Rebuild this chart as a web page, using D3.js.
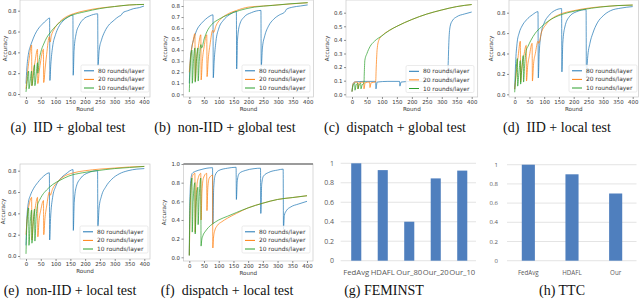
<!DOCTYPE html>
<html>
<head>
<meta charset="utf-8">
<script src="https://cdn.jsdelivr.net/npm/d3@7"></script>
<style>
  body { margin: 0; background: #fff; }
  svg { display: block; }
</style>
</head>
<body>
<svg id="chart" width="640" height="299"></svg>
<script>
// series names / colors
const seriesNames = ["80 rounds/layer", "20 rounds/layer", "10 rounds/layer"];
const seriesColors = ["#1f77b4", "#ff7f0e", "#2ca02c"];
const roundTicks = [0, 50, 100, 150, 200, 250, 300, 350, 400];

// (a) IID + global test
const aBlue = [[0,0.1],[3,0.25],[8,0.38],[15,0.46],[20,0.5],[30,0.57],[40,0.62],[55,0.67],[70,0.71],[80,0.73],[81,0.13],[84,0.28],[90,0.45],[100,0.57],[110,0.64],[125,0.7],[140,0.735],[159,0.76],[160,0.18],[163,0.42],[170,0.58],[180,0.66],[195,0.72],[215,0.75],[243,0.77],[244,0.27],[248,0.42],[256,0.52],[267,0.6],[280,0.66],[295,0.7],[318,0.75],[322,0.755],[328,0.78],[345,0.8],[365,0.82],[385,0.83],[400,0.845]];
const aOrange = [[0,0.05],[5,0.2],[10,0.32],[19,0.47],[20,0.08],[24,0.2],[30,0.3],[39,0.43],[40,0.1],[45,0.22],[50,0.32],[59,0.43],[60,0.11],[65,0.25],[70,0.38],[79,0.55],[82,0.5],[86,0.56],[95,0.62],[110,0.68],[130,0.73],[160,0.77],[200,0.8],[250,0.825],[300,0.84],[350,0.855],[400,0.86]];
const aGreen = [[0,0.02],[4,0.12],[9,0.22],[10,0.05],[14,0.12],[19,0.22],[20,0.08],[25,0.18],[29,0.28],[30,0.08],[35,0.2],[39,0.3],[40,0.2],[45,0.33],[50,0.4],[60,0.48],[70,0.54],[85,0.6],[100,0.65],[120,0.7],[150,0.75],[200,0.79],[250,0.82],[300,0.84],[350,0.855],[400,0.86]];

// (b) non-IID + global test
const bBlue = [[0,0.1],[3,0.3],[8,0.42],[15,0.5],[25,0.58],[40,0.64],[55,0.68],[70,0.71],[80,0.72],[81,0.15],[84,0.3],[90,0.48],[100,0.6],[115,0.67],[135,0.72],[159,0.75],[160,0.23],[163,0.5],[170,0.63],[185,0.7],[210,0.74],[242,0.76],[243,0.25],[247,0.42],[255,0.53],[268,0.62],[285,0.68],[305,0.72],[320,0.74],[324,0.75],[328,0.77],[350,0.79],[375,0.8],[400,0.81]];
const bOrange = [[0,0.2],[5,0.35],[12,0.47],[19,0.55],[20,0.12],[24,0.3],[30,0.42],[39,0.54],[40,0.13],[44,0.3],[50,0.43],[59,0.54],[60,0.16],[64,0.32],[70,0.45],[79,0.58],[82,0.56],[90,0.62],[105,0.68],[125,0.72],[160,0.76],[200,0.79],[250,0.8],[300,0.81],[350,0.82],[400,0.83]];
const bGreen = [[0,0.02],[3,0.25],[9,0.4],[10,0.1],[14,0.3],[19,0.42],[20,0.11],[24,0.3],[29,0.42],[30,0.12],[34,0.32],[39,0.45],[42,0.42],[50,0.5],[60,0.57],[75,0.63],[100,0.68],[130,0.72],[170,0.76],[220,0.79],[280,0.805],[340,0.82],[400,0.83]];

// (c) dispatch + global test
const cBlue = [[0,0.02],[3,0.07],[8,0.09],[40,0.095],[79,0.095],[80,0.04],[84,0.09],[120,0.095],[159,0.095],[160,0.06],[164,0.09],[200,0.095],[239,0.095],[240,0.08],[244,0.095],[280,0.095],[319,0.095],[321,0.2],[324,0.4],[328,0.5],[335,0.54],[350,0.57],[375,0.59],[400,0.605]];
const cOrange = [[0,0.02],[4,0.08],[10,0.09],[19,0.09],[20,0.04],[24,0.085],[39,0.09],[40,0.04],[44,0.085],[59,0.09],[60,0.05],[64,0.085],[79,0.09],[81,0.2],[84,0.33],[90,0.4],[100,0.43],[125,0.47],[150,0.5],[200,0.55],[250,0.59],[300,0.62],[350,0.645],[400,0.66]];
const cGreen = [[0,0.02],[4,0.07],[9,0.08],[10,0.03],[14,0.07],[19,0.08],[20,0.04],[24,0.07],[29,0.08],[30,0.04],[34,0.07],[40,0.08],[41,0.15],[43,0.25],[50,0.3],[60,0.35],[75,0.39],[100,0.43],[125,0.47],[150,0.5],[200,0.55],[250,0.59],[300,0.62],[350,0.645],[400,0.66]];

// (d) IID + local test
const dBlue = [[0,0.05],[3,0.3],[8,0.5],[15,0.6],[25,0.67],[40,0.73],[60,0.78],[79,0.81],[80,0.16],[83,0.4],[90,0.6],[100,0.7],[115,0.77],[135,0.82],[159,0.84],[160,0.22],[163,0.5],[170,0.66],[185,0.76],[210,0.81],[242,0.83],[243,0.16],[247,0.35],[255,0.5],[265,0.6],[280,0.7],[300,0.77],[325,0.82],[360,0.845],[400,0.86]];
const dOrange = [[0,0.05],[5,0.2],[12,0.38],[19,0.52],[20,0.12],[24,0.25],[30,0.36],[39,0.48],[40,0.13],[44,0.28],[50,0.38],[59,0.5],[60,0.13],[64,0.3],[70,0.4],[79,0.52],[82,0.5],[90,0.6],[105,0.68],[125,0.74],[150,0.78],[200,0.82],[250,0.845],[300,0.86],[350,0.87],[400,0.875]];
const dGreen = [[0,0.02],[4,0.2],[9,0.35],[10,0.08],[14,0.2],[19,0.33],[20,0.1],[24,0.25],[29,0.38],[30,0.12],[34,0.3],[39,0.43],[45,0.47],[55,0.53],[70,0.6],[90,0.66],[110,0.71],[140,0.76],[180,0.8],[230,0.83],[290,0.855],[350,0.87],[400,0.875]];

// (e) non-IID + local test
const eBlue = [[0,0.1],[3,0.35],[8,0.5],[15,0.57],[25,0.63],[40,0.69],[60,0.75],[79,0.78],[80,0.15],[83,0.35],[90,0.55],[100,0.65],[115,0.72],[135,0.77],[159,0.81],[160,0.24],[163,0.5],[170,0.65],[185,0.73],[210,0.78],[242,0.8],[243,0.27],[247,0.45],[255,0.56],[270,0.65],[290,0.72],[315,0.77],[345,0.8],[375,0.815],[400,0.82]];
const eOrange = [[0,0.2],[5,0.38],[12,0.5],[19,0.55],[20,0.15],[24,0.3],[30,0.43],[39,0.55],[40,0.18],[44,0.33],[50,0.43],[59,0.52],[60,0.2],[64,0.35],[70,0.47],[79,0.6],[82,0.57],[90,0.63],[105,0.69],[125,0.74],[160,0.78],[200,0.8],[250,0.815],[300,0.825],[350,0.835],[400,0.84]];
const eGreen = [[0,0.02],[3,0.3],[9,0.45],[10,0.1],[14,0.3],[19,0.43],[20,0.12],[24,0.3],[29,0.44],[30,0.14],[34,0.35],[39,0.48],[45,0.52],[55,0.57],[70,0.62],[90,0.67],[115,0.71],[145,0.75],[190,0.78],[240,0.8],[300,0.82],[350,0.83],[400,0.84]];

// (f) dispatch + local test
const fBlue = [[0,0.02],[2,0.6],[5,0.82],[10,0.9],[20,0.92],[40,0.94],[60,0.955],[79,0.96],[80,0.36],[83,0.75],[88,0.88],[100,0.93],[130,0.955],[159,0.965],[160,0.62],[163,0.82],[170,0.9],[190,0.93],[220,0.95],[242,0.955],[243,0.47],[246,0.78],[252,0.87],[270,0.91],[300,0.935],[319,0.945],[320,0.3],[323,0.45],[330,0.5],[345,0.54],[370,0.57],[400,0.6]];
const fOrange = [[0,0.02],[3,0.5],[7,0.8],[12,0.88],[19,0.9],[20,0.27],[23,0.6],[28,0.82],[39,0.9],[40,0.4],[43,0.7],[48,0.85],[59,0.9],[60,0.5],[63,0.75],[68,0.85],[79,0.88],[80,0.1],[82,0.2],[86,0.28],[95,0.34],[110,0.38],[130,0.42],[160,0.47],[200,0.53],[250,0.58],[300,0.62],[350,0.64],[400,0.66]];
const fGreen = [[0,0.02],[2,0.5],[5,0.72],[9,0.85],[10,0.27],[13,0.6],[19,0.8],[20,0.25],[23,0.55],[29,0.75],[30,0.35],[33,0.6],[39,0.85],[40,0.12],[42,0.18],[46,0.23],[55,0.28],[65,0.32],[80,0.36],[100,0.4],[130,0.44],[160,0.48],[200,0.53],[250,0.58],[300,0.62],[350,0.64],[400,0.66]];

// (g) FEMINST, (h) TTC
const femCats = ["FedAvg", "HDAFL", "Our_80", "Our_20", "Our_10"];
const femVals = [1.0, 0.93, 0.40, 0.845, 0.925];
const ttcCats = ["FedAvg", "HDAFL", "Our"];
const ttcVals = [1.0, 0.9, 0.7];
const barTicks = [0, 0.2, 0.4, 0.6, 0.8, 1];

const svg = d3.select("#chart");

function linePanel(p) {
  const x = d3.scaleLinear().domain([0, 400]).range([p.x0, p.x1]);
  const y = d3.scaleLinear().domain([0, p.ref]).range([p.y0, p.y1]);
  const g = svg.append("g");
  const L = p.frame; // [left, top, right, bottom]

  g.append("rect").attr("x", L[0]).attr("y", L[1])
    .attr("width", L[2] - L[0]).attr("height", L[3] - L[1])
    .attr("fill", "none").attr("stroke", "#c8c8c8").attr("stroke-width", 0.7);
  if (p.topLine) {
    g.append("line").attr("x1", L[0]).attr("x2", L[2])
      .attr("y1", y(1)).attr("y2", y(1))
      .attr("stroke", "#808080").attr("stroke-width", 1.6);
  }

  const clipId = "clip" + p.id;
  g.append("clipPath").attr("id", clipId).append("rect")
    .attr("x", L[0]).attr("y", L[1]).attr("width", L[2] - L[0]).attr("height", L[3] - L[1]);

  const line = d3.line().x(d => x(d[0])).y(d => y(d[1])).curve(d3.curveMonotoneX);
  g.append("g").attr("clip-path", `url(#${clipId})`)
    .selectAll("path").data(p.series).enter().append("path")
    .attr("d", line)
    .attr("fill", "none")
    .attr("stroke", (d, i) => seriesColors[i])
    .attr("stroke-width", 0.8)
    .attr("stroke-opacity", 0.9);

  // x axis
  const xa = g.append("g").attr("transform", `translate(0,${L[3]})`)
    .call(d3.axisBottom(x).tickValues(roundTicks).tickSize(2).tickPadding(1));
  // y axis
  const ya = g.append("g").attr("transform", `translate(${L[0]},0)`)
    .call(d3.axisLeft(y).tickValues(p.ticks).tickFormat(d3.format(".1f")).tickSize(2).tickPadding(1.5));
  [xa, ya].forEach(a => {
    a.select(".domain").remove();
    a.selectAll("line").attr("stroke", "#444").attr("stroke-width", 0.6);
    a.selectAll("text").attr("font-family", "DejaVu Sans").attr("font-size", 5.4).attr("fill", "#333");
  });

  g.append("text").attr("x", (L[0] + L[2]) / 2).attr("y", L[3] + 14)
    .attr("text-anchor", "middle").attr("font-family", "DejaVu Sans").attr("font-size", 5.6)
    .attr("fill", "#333").text("Round");
  g.append("text").attr("transform", `translate(${p.ylabX},${(L[1] + L[3]) / 2}) rotate(-90)`)
    .attr("text-anchor", "middle").attr("font-family", "DejaVu Sans").attr("font-size", 5.6)
    .attr("fill", "#333").text("Accuracy");

  // legend
  const lg = g.append("g").attr("transform", `translate(${p.leg[0]},${p.leg[1]})`);
  lg.append("rect").attr("width", 68).attr("height", 27).attr("rx", 1.5)
    .attr("fill", "#fff").attr("fill-opacity", 0.85).attr("stroke", "#ddd").attr("stroke-width", 0.6);
  seriesNames.forEach((n, i) => {
    const yy = 5.8 + i * 8.6;
    lg.append("line").attr("x1", 3).attr("x2", 13).attr("y1", yy).attr("y2", yy)
      .attr("stroke", seriesColors[i]).attr("stroke-width", 1);
    lg.append("text").attr("x", 17).attr("y", yy + 2).attr("font-family", "DejaVu Sans")
      .attr("font-size", 5.9).attr("fill", "#333").text(n);
  });

  svg.append("text").attr("x", p.cap[0]).attr("y", p.cap[1]).attr("text-anchor", "middle")
    .attr("font-family", "Liberation Serif").attr("font-size", 14).attr("fill", "#111")
    .attr("xml:space", "preserve").text(p.caption);
}

function barPanel(p) {
  const x = d3.scaleBand().domain(p.cats).range([p.bx0, p.bx1]).paddingInner(p.pad).paddingOuter(p.pad / 2);
  const y = d3.scaleLinear().domain([0, 1]).range([p.y0, p.y1]);
  const g = svg.append("g");

  g.selectAll(".grid").data(barTicks).enter().append("line")
    .attr("x1", p.gx0).attr("x2", p.gx1)
    .attr("y1", d => y(d)).attr("y2", d => y(d))
    .attr("stroke", "#d9d9d9").attr("stroke-width", 0.7);

  g.selectAll(".bar").data(p.vals).enter().append("rect")
    .attr("x", (d, i) => x(p.cats[i]))
    .attr("y", d => y(d))
    .attr("width", x.bandwidth())
    .attr("height", d => y(0) - y(d))
    .attr("fill", "#4f7fbe");

  g.selectAll(".yt").data(barTicks).enter().append("text")
    .attr("x", p.ytx).attr("y", d => y(d) + p.yfs * 0.35)
    .attr("text-anchor", "end").attr("font-family", "Open Sans").attr("font-size", p.yfs)
    .attr("fill", "#595959").text(d => d3.format("")(d));

  g.selectAll(".xt").data(p.cats).enter().append("text")
    .attr("x", d => x(d) + x.bandwidth() / 2).attr("y", y(0) + 14)
    .attr("text-anchor", "middle").attr("font-family", "Open Sans").attr("font-size", p.fs)
    .attr("fill", "#595959").text(d => d);

  svg.append("text").attr("x", p.cap[0]).attr("y", p.cap[1]).attr("text-anchor", "middle")
    .attr("font-family", "Liberation Serif").attr("font-size", 14).attr("fill", "#111")
    .text(p.caption);
}

linePanel({ id: "a", series: [aBlue, aOrange, aGreen], x0: 26, x1: 144, ref: 0.8, y0: 94, y1: 10.7,
  frame: [20, 0, 150, 97], ticks: [0, 0.2, 0.4, 0.6, 0.8], ylabX: 6.5, leg: [81, 65],
  cap: [68, 132], caption: "(a)  IID + global test" });
linePanel({ id: "b", series: [bBlue, bOrange, bGreen], x0: 189.3, x1: 307.7, ref: 0.8, y0: 94.3, y1: 6,
  frame: [183.5, 0, 313.5, 97], ticks: d3.range(0, 0.81, 0.1), ylabX: 166.5, leg: [242, 65],
  cap: [225, 132], caption: "(b)  non-IID + global test" });
linePanel({ id: "c", series: [cBlue, cOrange, cGreen], x0: 352, x1: 471.7, ref: 0.6, y0: 94.3, y1: 12.7,
  frame: [346, 0, 477.7, 97], ticks: d3.range(0, 0.61, 0.1), ylabX: 328.5, leg: [406, 65.5],
  cap: [395, 132], caption: "(c)  dispatch + global test" });
linePanel({ id: "d", series: [dBlue, dOrange, dGreen], x0: 514.7, x1: 632.7, ref: 0.8, y0: 94.3, y1: 12.7,
  frame: [509, 0, 638.5, 97], ticks: [0, 0.2, 0.4, 0.6, 0.8], ylabX: 493, leg: [569, 65],
  cap: [557, 132], caption: "(d)  IID + local test" });
linePanel({ id: "e", series: [eBlue, eOrange, eGreen], x0: 26, x1: 144.3, ref: 0.8, y0: 256, y1: 170.7,
  frame: [20, 164, 150, 259], ticks: [0, 0.2, 0.4, 0.6, 0.8], ylabX: 4.5, leg: [80, 226],
  cap: [70, 295], caption: "(e)  non-IID + local test" });
linePanel({ id: "f", series: [fBlue, fOrange, fGreen], x0: 189.3, x1: 307, ref: 1.0, y0: 257.3, y1: 164,
  frame: [183.5, 164, 313, 261], ticks: [0, 0.2, 0.4, 0.6, 0.8, 1.0], ylabX: 165.5, leg: [242, 226],
  cap: [227, 295], caption: "(f)  dispatch + local test", topLine: true });

barPanel({ cats: femCats, vals: femVals, bx0: 343, bx1: 475.5, pad: 0.62, y0: 260.7, y1: 163.3,
  gx0: 340.7, gx1: 476, ytx: 334, fs: 7.7, yfs: 7, cap: [384, 295], caption: "(g)  FEMINST" });
barPanel({ cats: ttcCats, vals: ttcVals, bx0: 506.5, bx1: 637.5, pad: 0.7, y0: 260.7, y1: 164.7,
  gx0: 507, gx1: 636.5, ytx: 498, fs: 6.2, yfs: 6, cap: [562, 295], caption: "(h)  TTC" });
</script>
</body>
</html>
